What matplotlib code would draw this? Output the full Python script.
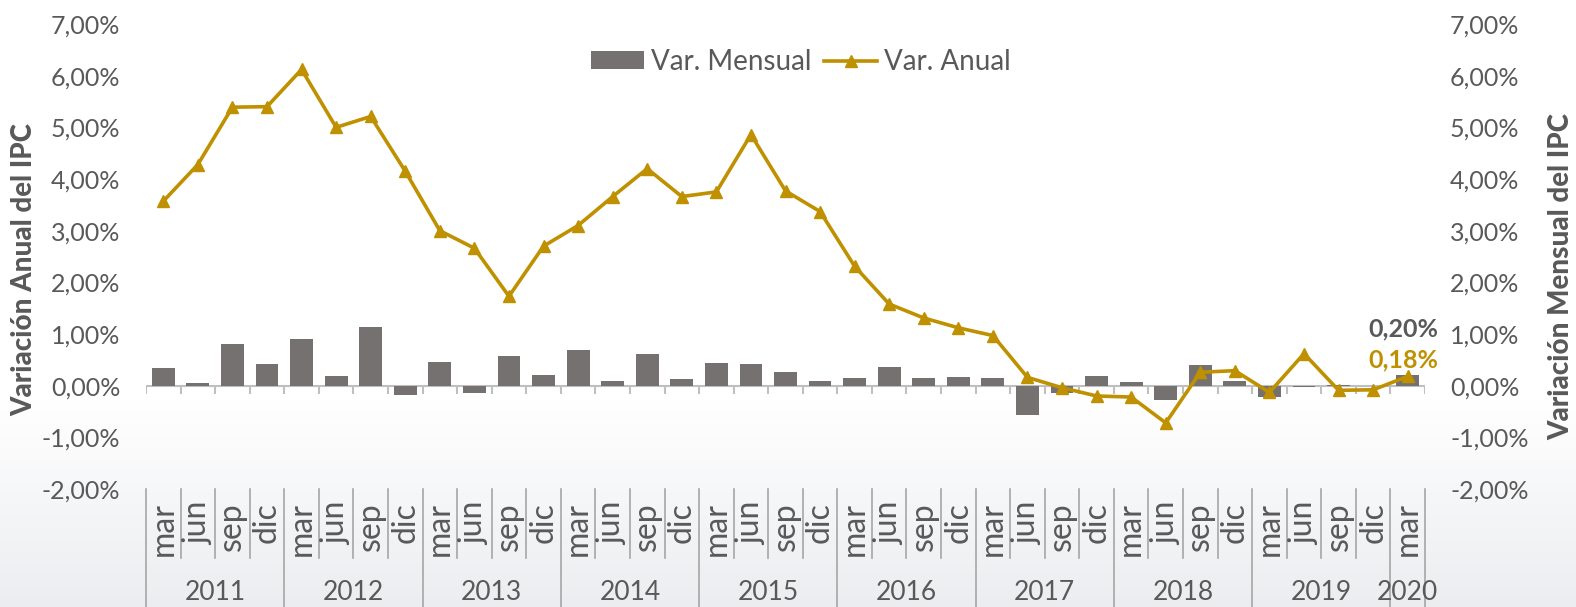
import matplotlib
matplotlib.use("Agg")
import matplotlib.pyplot as plt
import numpy as np
from matplotlib.ticker import FuncFormatter, FixedLocator
from matplotlib.lines import Line2D
from matplotlib.patches import Patch

# ---------------- data ----------------
years = ["2011", "2012", "2013", "2014", "2015", "2016", "2017", "2018", "2019", "2020"]
months = ["mar", "jun", "sep", "dic"]
months_per_year = [4, 4, 4, 4, 4, 4, 4, 4, 4, 1]

var_mensual = [0.34, 0.05, 0.80, 0.41,
               0.90, 0.18, 1.13, -0.19,
               0.45, -0.14, 0.57, 0.21,
               0.70, 0.10, 0.62, 0.12,
               0.43, 0.41, 0.27, 0.10,
               0.14, 0.36, 0.15, 0.16,
               0.14, -0.57, -0.15, 0.18,
               0.07, -0.27, 0.40, 0.10,
               -0.21, -0.02, 0.01, 0.00,
               0.20]
var_anual = [3.57, 4.28, 5.39, 5.40,
             6.12, 5.00, 5.21, 4.15,
             3.00, 2.66, 1.73, 2.70,
             3.10, 3.66, 4.20, 3.66,
             3.75, 4.86, 3.77, 3.37,
             2.31, 1.58, 1.31, 1.12,
             0.97, 0.16, -0.04, -0.20,
             -0.22, -0.72, 0.26, 0.29,
             -0.13, 0.62, -0.09, -0.08,
             0.18]
label_mensual = "0,20%"
label_anual = "0,18%"

# ---------------- style ----------------
GOLD = "#BF9000"
BAR = "#767171"
TXT = "#595959"
GRID = "#BFBFBF"
SEP = "#A6A6A6"
FONT = "Lato"
plt.rcParams["font.family"] = [FONT, "DejaVu Sans"]

W, H = 1576, 607
fig = plt.figure(figsize=(W / 100, H / 100), dpi=100)

# subtle background gradient (lower part greyish)
bg = fig.add_axes([0, 0, 1, 1], zorder=-10)
bg.axis("off")
yy = np.arange(H)
t = np.clip((yy - 400) / (H - 400), 0, 1)
img = np.zeros((H, 2, 3))
top_col = np.array([1.0, 1.0, 1.0])
bot_col = np.array([0.925, 0.93, 0.94])
for i in range(H):
    img[i, :, :] = top_col * (1 - t[i]) + bot_col * t[i]
bg.imshow(img, aspect="auto", extent=[0, 1, 0, 1], origin="upper")

L, R, T, B = 146, 1425, 24, 489
ax = fig.add_axes([L / W, 1 - B / H, (R - L) / W, (B - T) / H])
ax.patch.set_alpha(0)

n = len(var_mensual)
x = np.arange(n)

ax.bar(x, var_mensual, width=0.66, color=BAR, zorder=2)
ax.plot(x, var_anual, color=GOLD, lw=2.6, marker="^", markersize=9,
        markerfacecolor=GOLD, markeredgecolor=GOLD, zorder=4)

ax.set_xlim(-0.5, n - 0.5)
ax.set_ylim(-2, 7)
ax.axhline(0, color=GRID, lw=1.5, zorder=1)
bounds = np.arange(n + 1) - 0.5
ax.vlines(bounds, -0.16, 0, color=GRID, lw=1.5, zorder=1)

pct = FuncFormatter(lambda v, p: f"{v:.2f}%".replace(".", ","))
yt = np.arange(-2, 8, 1)
ax.yaxis.set_major_locator(FixedLocator(yt))
ax.yaxis.set_major_formatter(pct)
ax.tick_params(axis="y", length=0, pad=18.5, labelsize=18, labelcolor=TXT)
ax.set_xticks([])
for s in ax.spines.values():
    s.set_visible(False)

ax2 = ax.twinx()
ax2.set_ylim(-2, 7)
ax2.yaxis.set_major_locator(FixedLocator(yt))
ax2.yaxis.set_major_formatter(pct)
ax2.tick_params(axis="y", length=0, pad=18, labelsize=18, labelcolor=TXT)
for s in ax2.spines.values():
    s.set_visible(False)

# category axis (multi-level)
xt = ax.get_xaxis_transform()
ah = B - T
def ay(py):
    return (B - py) / ah

year_starts = np.concatenate([[0], np.cumsum(months_per_year)])
major_bounds = set((year_starts - 0.5).tolist())
for b in bounds:
    y0 = ay(607) if b in major_bounds else ay(558)
    ax.plot([b, b], [0, y0], transform=xt, color=SEP, lw=1.2, clip_on=False)

i = 0
for yi, (yr, cnt) in enumerate(zip(years, months_per_year)):
    for k in range(cnt):
        ax.text(i, ay(502), months[k], transform=xt, rotation=90, ha="center",
                va="top", fontsize=23, color=TXT)
        i += 1
    ax.text(year_starts[yi] + (cnt - 1) / 2, ay(593), yr, transform=xt,
            ha="center", va="center", fontsize=19, color=TXT)

# end labels
ax.text(36.9, 1.09, label_mensual, ha="right", va="center", fontsize=18,
        fontweight="bold", color=TXT, zorder=5)
ax.text(36.9, 0.49, label_anual, ha="right", va="center", fontsize=18,
        fontweight="bold", color=GOLD, zorder=5)

# axis titles
fig.text(24 / W, 1 - 269 / H, "Variación Anual del IPC", rotation=90, ha="center",
         va="center", fontsize=20, fontweight="black", color=TXT)
fig.text(1561 / W, 1 - 276 / H, "Variación Mensual del IPC", rotation=90, ha="center",
         va="center", fontsize=20, fontweight="black", color=TXT)

# legend
handles = [Patch(facecolor=BAR, edgecolor="none"),
           Line2D([0], [0], color=GOLD, lw=2.6, marker="^", markersize=9)]
leg = fig.legend(handles, ["Var. Mensual", "Var. Anual"], loc="center",
                 bbox_to_anchor=(801 / W, 1 - 62 / H), ncol=2, frameon=False,
                 fontsize=20, labelcolor=TXT, handlelength=1.9, handleheight=0.6,
                 handletextpad=0.25, columnspacing=0.45)

fig.savefig("out.png", dpi=100)
